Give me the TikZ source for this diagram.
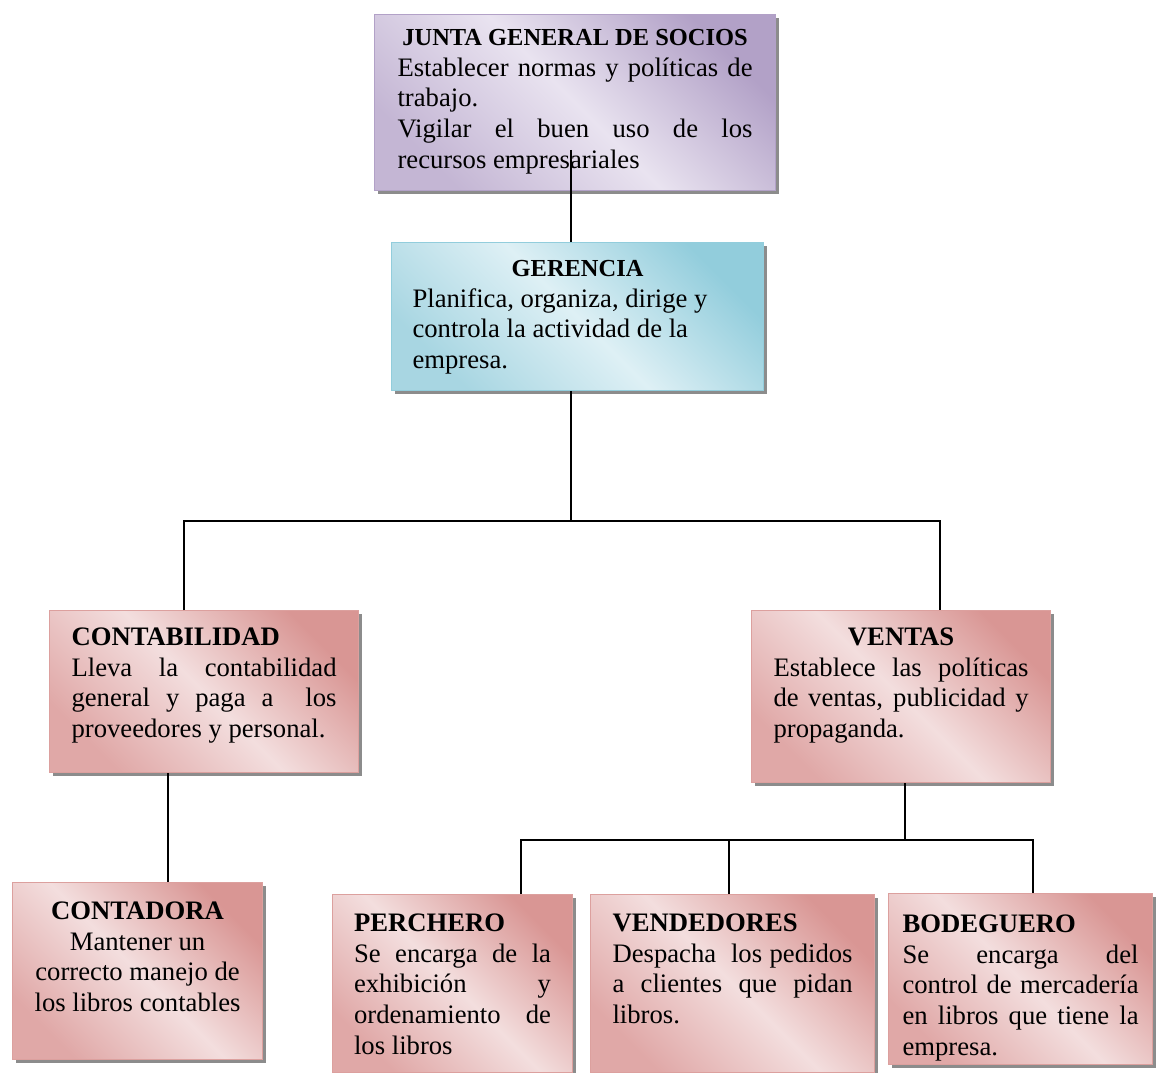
\documentclass[tikz,border=0pt]{standalone}
\usepackage{fontspec}
\setmainfont{Liberation Serif}
\usetikzlibrary{shadows}

\newlength{\pxu}
\setlength{\pxu}{0.45pt}
\hyphenpenalty=10000
\exhyphenpenalty=10000
\tolerance=9999
\hbadness=10000

\definecolor{rosedark}{RGB}{217,150,148}
\definecolor{rosemid}{RGB}{224,168,167}
\definecolor{roselight}{RGB}{243,222,222}
\definecolor{roseline}{RGB}{220,160,158}
\definecolor{lilacdark}{RGB}{178,161,199}
\definecolor{lilacmid}{RGB}{196,182,212}
\definecolor{lilaclight}{RGB}{233,227,240}
\definecolor{skydark}{RGB}{146,205,220}
\definecolor{skymid}{RGB}{168,214,226}
\definecolor{skylight}{RGB}{222,240,245}

\newcommand{\headsmall}{\fontsize{11}{13.8}\selectfont\bfseries}

\begin{document}
\begin{tikzpicture}[
  x=0.45pt, y=-0.45pt,
  font=\fontsize{12}{13.8}\selectfont,
  unit/.style={anchor=north west, inner ysep=0pt, line width=0.5pt,
               drop shadow={shadow xshift=3\pxu, shadow yshift=-3\pxu,
                            fill=black!45, opacity=1}},
  rosebox/.style={unit, draw=roseline, top color=rosedark,
                  bottom color=rosemid, middle color=roselight, shading angle=-45},
  lilacbox/.style={unit, draw=lilacdark, top color=lilacdark,
                   bottom color=lilacmid, middle color=lilaclight, shading angle=-45},
  skybox/.style={unit, draw=skydark, top color=skydark,
                 bottom color=skymid, middle color=skylight, shading angle=-45},
  dims/.style n args={4}{text width=#1\pxu, inner xsep=#2\pxu,
                         text height=#3\pxu, text depth=#4\pxu},
  link/.style={draw=black, line width=0.9pt}
]
\useasboundingbox (0,0) rectangle (1157,1073);

% board and management
\node[lilacbox, dims={355}{23}{31}{145}, align=justify] (junta) at (374,14)
  {{\centering\headsmall JUNTA GENERAL DE SOCIOS\par}
   Establecer normas y políticas de\linebreak trabajo.\par
   Vigilar el buen uso de los\linebreak recursos empresariales};
\node[skybox, dims={330}{21}{34}{114}, align=flush left] (gerencia) at (391,242)
  {{\centering\headsmall GERENCIA\par}
   Planifica, organiza, dirige y\\ controla la actividad de la\\ empresa.};

% departments
\node[rosebox, dims={265}{22}{35}{127}, align=justify] (contab) at (49,610)
  {\textbf{CONTABILIDAD}\par
   Lleva la contabilidad\linebreak general y paga a \ los\linebreak
   proveedores y personal.};
\node[rosebox, dims={255}{22}{35}{137}, align=justify] (ventas) at (751,610)
  {{\centering\bfseries VENTAS\par}
   Establece las políticas\linebreak de ventas, publicidad y\linebreak propaganda.};

% staff
\node[rosebox, dims={220}{15}{37}{140}, align=flush center] (contadora) at (12,882)
  {\textbf{CONTADORA}\\ Mantener un\\ correcto manejo de\\ los libros contables};
\node[rosebox, dims={197}{21.5}{37}{141}, align=justify] (perchero) at (332,894)
  {\textbf{PERCHERO}\par
   Se encarga de la\linebreak exhibición y\linebreak ordenamiento de\linebreak los libros};
\node[rosebox, dims={240}{22}{37}{141}, align=justify] (vendedores) at (590,894)
  {\textbf{VENDEDORES}\par
   Despacha \ los pedidos\linebreak a clientes que pidan\linebreak libros.};
\node[rosebox, dims={236}{14}{39}{132}, align=justify] (bodeguero) at (888,893)
  {\textbf{BODEGUERO}\par
   Se encarga del\linebreak control de mercadería\linebreak
   en libros que tiene la\linebreak empresa.};

% branch points
\coordinate (jx) at (571,150);
\coordinate (hub) at (571,521);
\coordinate (hubL) at (184,521);
\coordinate (hubR) at (940,521);
\coordinate (cx) at (168,800);
\coordinate (hub2) at (905,840);
\coordinate (hub2L) at (521,840);
\coordinate (hub2M) at (729,840);
\coordinate (hub2R) at (1033,840);

% lines
\draw[link] (jx) -- (gerencia.north -| jx);
\draw[link] (gerencia.south -| hub) -- (hub);
\draw[link] (contab.north -| hubL) |- (hubR) -- (ventas.north -| hubR);
\draw[link] (contab.south -| cx) -- (contadora.north -| cx);
\draw[link] (ventas.south -| hub2) -- (hub2);
\draw[link] (perchero.north -| hub2L) |- (hub2R) -- (bodeguero.north -| hub2R);
\draw[link] (hub2M) -- (vendedores.north -| hub2M);

\end{tikzpicture}
\end{document}
